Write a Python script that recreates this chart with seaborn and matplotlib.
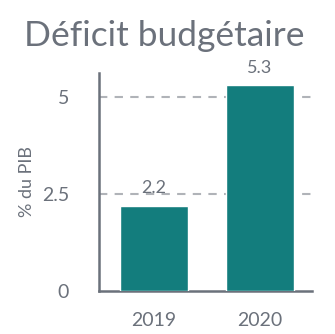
import matplotlib
matplotlib.use("Agg")
import matplotlib.pyplot as plt
import seaborn as sns
import pandas as pd

years = ["2019", "2020"]
deficit = [2.2, 5.3]
yticks = [0, 2.5, 5]
ytick_labels = ["0", "2.5", "5"]

sns.set_theme(style="white")
plt.rcParams["font.family"] = ["Lato", "DejaVu Sans"]

grey = "#6b717b"
teal = "#137d7d"

df = pd.DataFrame({"year": years, "deficit": deficit})

fig = plt.figure(figsize=(3.35, 3.34), dpi=100)
ax = fig.add_axes([99 / 335, 1 - 291 / 334, 213 / 335, 218 / 334])

sns.barplot(data=df, x="year", y="deficit", color=teal, width=0.64,
            saturation=1, ax=ax, zorder=3)

ax.set_ylim(0, 5.62)
ax.set_xlim(-0.52, 1.49)
ax.set_yticks(yticks)
ax.set_yticklabels(ytick_labels)
for y in yticks[1:]:
    ax.axhline(y, color="#b0b3b8", lw=1.5, ls=(0, (4, 3.5)), zorder=1)

for i, v in enumerate(deficit):
    ax.text(i, v + 0.32, f"{v}", ha="center", va="baseline",
            fontsize=13, color=grey, zorder=4)

ax.set_xlabel("")
ax.set_ylabel("% du PIB", fontsize=13, color=grey)
ax.yaxis.set_label_coords(-64 / 213, 0.5)
ax.tick_params(axis="both", length=0, labelsize=14, colors=grey)
ax.tick_params(axis="y", pad=21.5)
ax.tick_params(axis="x", pad=15)
for s in ["top", "right"]:
    ax.spines[s].set_visible(False)
for s in ["left", "bottom"]:
    ax.spines[s].set_color(grey)
    ax.spines[s].set_linewidth(1.8)

fig.text(164 / 335, 1 - 36 / 334, "Déficit budgétaire", ha="center", va="center",
         fontsize=25.5, color=grey)

fig.savefig("out.png", dpi=100)
